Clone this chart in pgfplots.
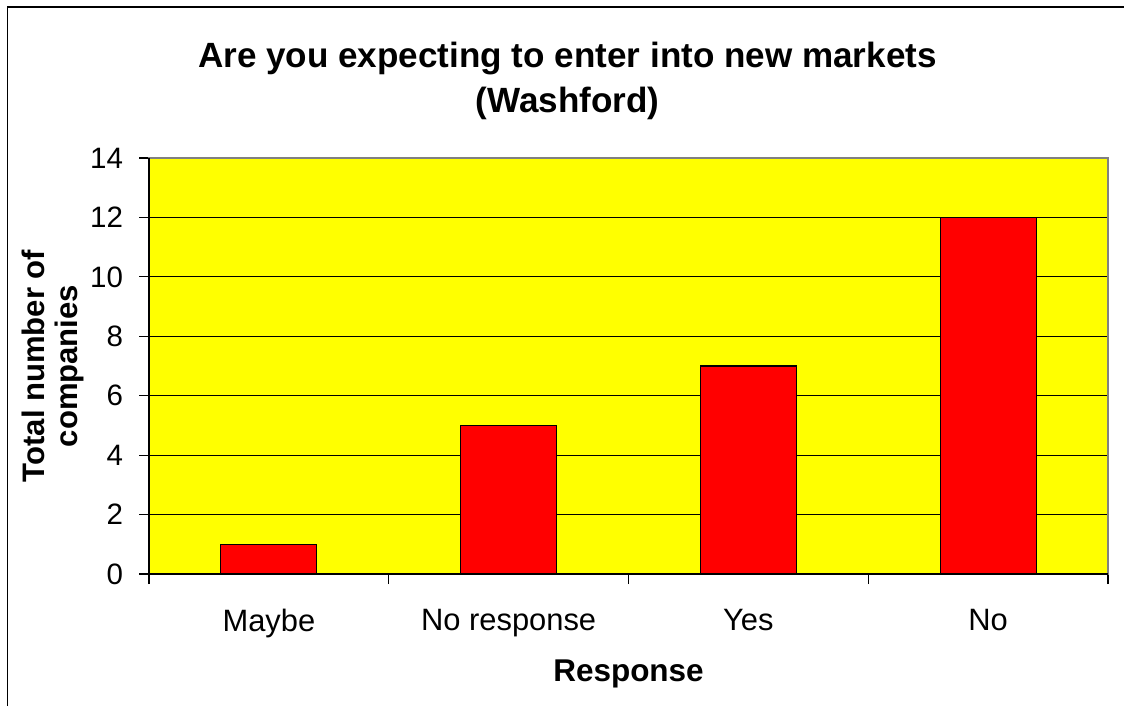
\documentclass[border=0pt]{standalone}
\usepackage{fontspec}
\setmainfont{Liberation Sans}
\usepackage{pgfplots}
\pgfplotsset{compat=1.18}
\begin{document}
\begin{tikzpicture}[x=1bp,y=1bp]
\useasboundingbox (0,0) rectangle (562,353);
\fill[white] (0,0) rectangle (562,353);
\draw[black, line width=0.7bp] (3.8,0) -- (3.8,349.5) -- (562,349.5);
\begin{axis}[
  at={(74.5bp,66bp)}, anchor=south west,
  scale only axis, width=479.5bp, height=208bp,
  xmin=-0.5, xmax=3.5, ymin=0, ymax=14,
  ytick={0,2,...,14},
  xtick={0,1,2,3},
  xticklabels={Maybe,No response,Yes,No},
  minor xtick={-0.5,0.5,1.5,2.5,3.5},
  xtick pos=bottom, ytick pos=left,
  major x tick style={draw=none},
  minor x tick style={black, line width=0.6bp},
  tick align=outside,
  major tick length=5bp, minor tick length=5bp,
  y tick style={black, line width=0.6bp},
  ymajorgrids, grid style={black, line width=0.5bp},
  axis background/.style={fill={rgb,255:red,255;green,255;blue,0}},
  axis line style={gray, line width=0.6bp},
  yticklabel style={font=\fontsize{14.8}{16}\selectfont, xshift=-4.5bp},
  xticklabel style={font=\fontsize{15.5}{17}\selectfont, yshift=-9bp},
  /pgf/number format/assume math mode=true,
  xlabel={Response}, xlabel style={font=\fontsize{15.8}{17}\selectfont\bfseries, yshift=-4bp},
  ylabel={Total number of\\companies}, ylabel style={font=\fontsize{15.6}{16.5}\selectfont\bfseries, align=center, yshift=-3.8bp},
  title={Are you expecting to enter into new markets\\(Washford)},
  title style={font=\fontsize{17.6}{22.5}\selectfont\bfseries, align=center, yshift=9.5bp, xshift=-30.5bp},
  clip=false,
]
\addplot[ybar, bar width=48bp, fill=red, draw=black, line width=0.6bp] coordinates {(0,1) (1,5) (2,7) (3,12)};
\draw[black, line width=0.6bp] (rel axis cs:0,1) -- (rel axis cs:0,0) -- (rel axis cs:1,0);
\end{axis}
\end{tikzpicture}
\end{document}
